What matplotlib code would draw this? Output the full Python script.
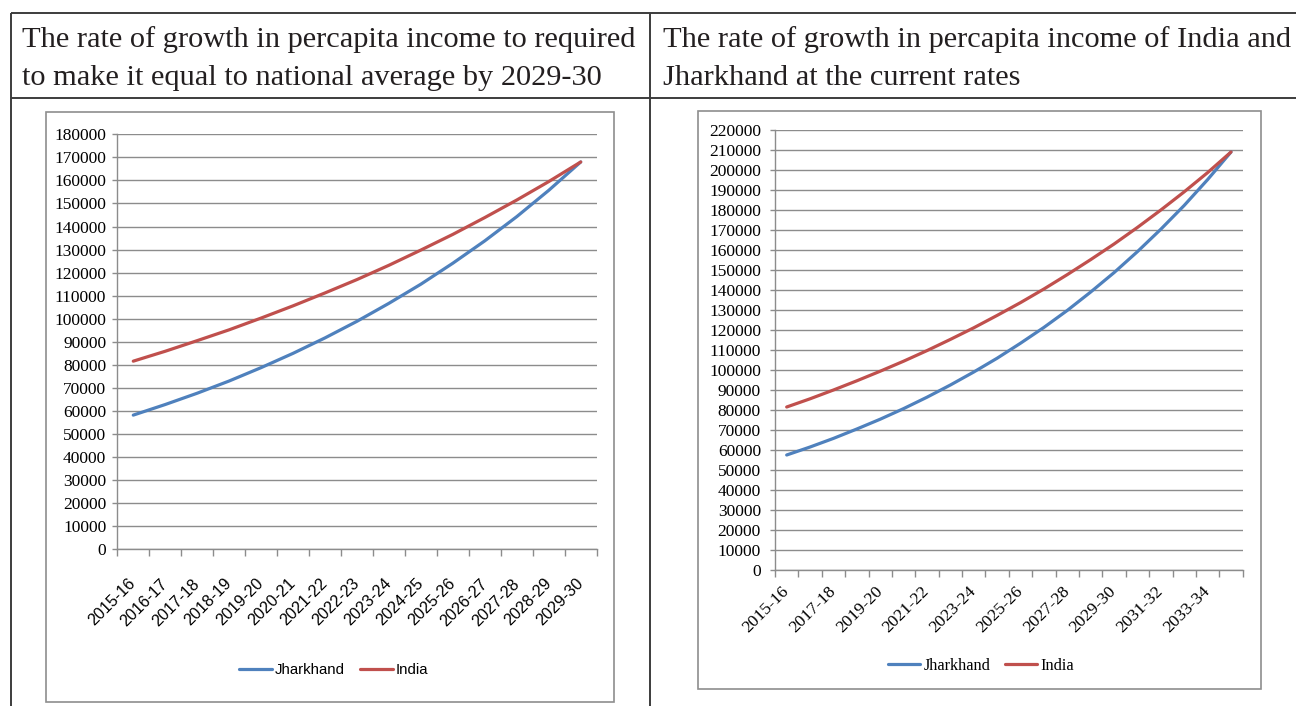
import matplotlib
matplotlib.use('Agg')
import matplotlib.pyplot as plt
from matplotlib import font_manager
from matplotlib.patches import Rectangle
from matplotlib.lines import Line2D
import numpy as np

# ---------------- data ----------------
years1 = ['2015-16', '2016-17', '2017-18', '2018-19', '2019-20', '2020-21', '2021-22',
          '2022-23', '2023-24', '2024-25', '2025-26', '2026-27', '2027-28', '2028-29', '2029-30']
jharkhand1 = [58200, 62800, 67700, 73000, 78800, 85000, 91700, 98900, 106700, 115000,
              124100, 133800, 144300, 155700, 168000]
india1 = [81600, 85900, 90500, 95200, 100300, 105600, 111200, 117000, 123200, 129800,
          136600, 143900, 151500, 159500, 168000]

years2 = ['2015-16', '2016-17', '2017-18', '2018-19', '2019-20', '2020-21', '2021-22',
          '2022-23', '2023-24', '2024-25', '2025-26', '2026-27', '2027-28', '2028-29',
          '2029-30', '2030-31', '2031-32', '2032-33', '2033-34', '2034-35']
jharkhand2 = [57500, 61500, 65800, 70500, 75400, 80700, 86400, 92500, 99000, 105900,
              113400, 121300, 129800, 139000, 148700, 159200, 170400, 182300, 195200, 209000]
india2 = [81500, 85600, 90000, 94600, 99400, 104400, 109700, 115300, 121100, 127300,
          133700, 140500, 147700, 155200, 163000, 171300, 180000, 189100, 198700, 209000]

series_names = ['Jharkhand', 'India']
header_left = ['The rate of growth in percapita income to required',
               'to make it equal to national average by 2029-30']
header_right = ['The rate of growth in percapita income of India and',
                'Jharkhand at the current rates']

# ---------------- setup ----------------
W, H, DPI = 1296, 706, 100
BLUE, RED = '#4F81BD', '#C0504D'
GRID = '#8c8c8c'


def have(fam):
    try:
        font_manager.findfont(font_manager.FontProperties(family=fam), fallback_to_default=False)
        return True
    except Exception:
        return False


SERIF = 'Liberation Serif'
if have('Liberation Sans Narrow'):
    NARROW, NSIZE, LSIZE = 'Liberation Sans Narrow', 12.5, 12.0
else:
    NARROW, NSIZE, LSIZE = 'Liberation Sans', 11.6, 10.8

fig = plt.figure(figsize=(W / DPI, H / DPI), dpi=DPI)


def fx(x):
    return x / W


def fy(y):
    return 1 - y / H


def axes_px(l, t, r, b):
    return fig.add_axes([fx(l), fy(b), (r - l) / W, (b - t) / H])


def fline(x0, y0, x1, y1, color, lw):
    fig.add_artist(Line2D([fx(x0), fx(x1)], [fy(y0), fy(y1)], transform=fig.transFigure,
                          color=color, lw=lw, solid_capstyle='butt'))


# ---------------- table ----------------
TCOL = '#3c3c3c'
fline(11, 13, W, 13, TCOL, 1.4)
fline(11, 98, W, 98, TCOL, 1.4)
fline(11, 13, 11, H, TCOL, 1.4)
fline(649.5, 13, 649.5, H, TCOL, 1.4)

# header texts, sized to the reference width of the first line
t = fig.text(fx(22), fy(47), header_left[0], family=SERIF, fontsize=20, color='#231f20', va='baseline')
fig.canvas.draw()
w = t.get_window_extent().width
hs = 20 * 615.0 / w
t.set_fontsize(hs)
fig.text(fx(22), fy(85), header_left[1], family=SERIF, fontsize=hs, color='#231f20', va='baseline')
fig.text(fx(663), fy(47), header_right[0], family=SERIF, fontsize=hs, color='#231f20', va='baseline')
fig.text(fx(663), fy(85), header_right[1], family=SERIF, fontsize=hs, color='#231f20', va='baseline')

# chart frames
for (l, tp, r, b) in [(45.7, 111.7, 614, 701.7), (698.3, 111, 1261, 689)]:
    fig.add_artist(Rectangle((fx(l), fy(b)), (r - l) / W, (b - tp) / H, transform=fig.transFigure,
                             fill=False, edgecolor='#8e8e8e', lw=1.2))


def style_axes(ax, n, ymax, label_idx, labels, xfont, xsize, xpad, ysize, ypad):
    ax.set_xlim(-0.5, n - 0.5)
    ax.set_ylim(0, ymax)
    ax.set_yticks(np.arange(0, ymax + 1, 10000))
    ax.set_yticklabels([str(int(v)) for v in np.arange(0, ymax + 1, 10000)],
                       family=SERIF, fontsize=ysize)
    ax.yaxis.grid(True, color=GRID, lw=1.0)
    ax.set_axisbelow(True)
    for s in ['top', 'right']:
        ax.spines[s].set_visible(False)
    for s in ['left', 'bottom']:
        ax.spines[s].set_color(GRID)
        ax.spines[s].set_linewidth(1.0)
    ax.tick_params(axis='y', length=3.6, width=1.0, color=GRID, pad=ypad, labelcolor='black')
    ax.set_xticks(np.arange(-0.5, n, 1.0))
    ax.set_xticklabels([])
    ax.tick_params(axis='x', which='major', length=5, width=1.0, color=GRID, direction='out')
    ax.set_xticks(label_idx, minor=True)
    ax.set_xticklabels(labels, minor=True, rotation=45, ha='right', va='center',
                       rotation_mode='anchor', family=xfont, fontsize=xsize)
    ax.tick_params(axis='x', which='minor', length=0, pad=xpad)
    ax.set_facecolor('none')


# ---------------- chart 1 ----------------
ax1 = axes_px(117.3, 134.3, 596.7, 549.3)
n1 = len(years1)
x1 = np.arange(n1)
l1, = ax1.plot(x1, jharkhand1, color=BLUE, lw=2.3, solid_capstyle='round', solid_joinstyle='round')
l2, = ax1.plot(x1, india1, color=RED, lw=2.3, solid_capstyle='round', solid_joinstyle='round')
style_axes(ax1, n1, 180000, x1, years1, NARROW, NSIZE, 23, 12.5, 4.3)
leg1 = ax1.legend([l1, l2], series_names, loc='center', bbox_to_anchor=(fx(333.5), fy(670)),
                  bbox_transform=fig.transFigure, ncol=2, frameon=False,
                  prop=dict(family=NARROW, size=LSIZE),
                  handlelength=2.2, handletextpad=0.2, columnspacing=1.0, borderaxespad=0)

# ---------------- chart 2 ----------------
ax2 = axes_px(775, 130, 1242.7, 570)
n2 = len(years2)
x2 = np.arange(n2)
m1, = ax2.plot(x2, jharkhand2, color=BLUE, lw=2.3, solid_capstyle='round', solid_joinstyle='round')
m2, = ax2.plot(x2, india2, color=RED, lw=2.3, solid_capstyle='round', solid_joinstyle='round')
style_axes(ax2, n2, 220000, x2[::2], years2[::2], SERIF, 12.6, 14, 12.5, 6.5)
leg2 = ax2.legend([m1, m2], series_names, loc='center', bbox_to_anchor=(fx(981), fy(666)),
                  bbox_transform=fig.transFigure, ncol=2, frameon=False,
                  prop=dict(family=SERIF, size=11.7),
                  handlelength=2.0, handletextpad=0.2, columnspacing=0.9, borderaxespad=0)

fig.savefig('out.png', dpi=DPI)
